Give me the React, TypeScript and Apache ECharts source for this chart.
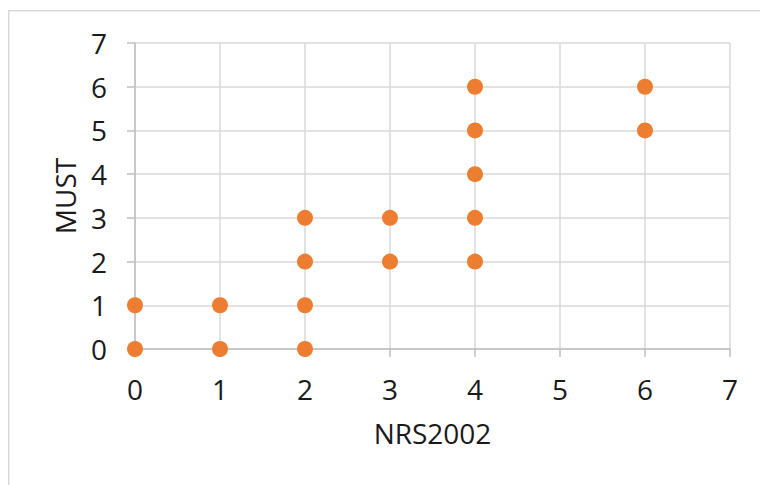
import React, { useEffect, useRef } from "react";
import * as echarts from "echarts";

// NRS2002 score vs MUST score for each observed pair
const nrs2002 = [0, 0, 1, 1, 2, 2, 2, 2, 3, 3, 4, 4, 4, 4, 4, 6, 6];
const must = [0, 1, 0, 1, 0, 1, 2, 3, 2, 3, 2, 3, 4, 5, 6, 5, 6];

const xTicks = [0, 1, 2, 3, 4, 5, 6, 7];
const yTicks = [0, 1, 2, 3, 4, 5, 6, 7];

const FONT = "'Open Sans', 'Noto Sans', sans-serif";
const TEXT = "#1a1a1a";
const GRID = "#d9d9d9";
const AXIS = "#bfbfbf";
const DOT = "#ed7d31";

export default function App() {
  const ref = useRef<HTMLDivElement>(null);

  useEffect(() => {
    if (!ref.current) return;
    const chart = echarts.init(ref.current, null, { renderer: "svg" });
    const points = nrs2002.map((x, i) => [x, must[i]]);
    chart.setOption({
      animation: false,
      backgroundColor: "#ffffff",
      textStyle: { fontFamily: FONT },
      graphic: [
        {
          // chart frame; its right and bottom edges run past the page
          type: "rect",
          shape: { x: 8.75, y: 10.75, width: 900, height: 600 },
          style: { fill: "none", stroke: GRID, lineWidth: 1.5 },
          silent: true,
        },
      ],
      grid: { left: 135, right: 30, top: 43, bottom: 136, containLabel: false },
      xAxis: {
        type: "value",
        min: xTicks[0],
        max: xTicks[xTicks.length - 1],
        interval: 1,
        name: "NRS2002",
        nameLocation: "middle",
        nameGap: 70,
        nameTextStyle: { fontSize: 28, color: TEXT, fontFamily: FONT },
        axisLine: { show: true, lineStyle: { color: AXIS, width: 1.5 } },
        axisTick: { show: true, length: 8, lineStyle: { color: AXIS, width: 1.5 } },
        axisLabel: { fontSize: 28, color: TEXT, margin: 26, fontFamily: FONT },
        splitLine: { show: true, lineStyle: { color: GRID, width: 1.5 } },
      },
      yAxis: {
        type: "value",
        min: yTicks[0],
        max: yTicks[yTicks.length - 1],
        interval: 1,
        name: "MUST",
        nameLocation: "middle",
        nameGap: 56,
        nameTextStyle: { fontSize: 28, color: TEXT, fontFamily: FONT },
        axisLine: { show: true, lineStyle: { color: AXIS, width: 1.5 } },
        axisTick: { show: true, length: 8, lineStyle: { color: AXIS, width: 1.5 } },
        axisLabel: { fontSize: 28, color: TEXT, margin: 28, fontFamily: FONT },
        splitLine: { show: true, lineStyle: { color: GRID, width: 1.5 } },
      },
      series: [
        {
          type: "scatter",
          data: points,
          symbol: "circle",
          symbolSize: 16,
          itemStyle: { color: DOT, opacity: 1 },
        },
      ],
    });
    return () => chart.dispose();
  }, []);

  return (
    <div
      ref={ref}
      style={{ position: "absolute", left: 0, top: 0, width: 760, height: 485 }}
    />
  );
}
